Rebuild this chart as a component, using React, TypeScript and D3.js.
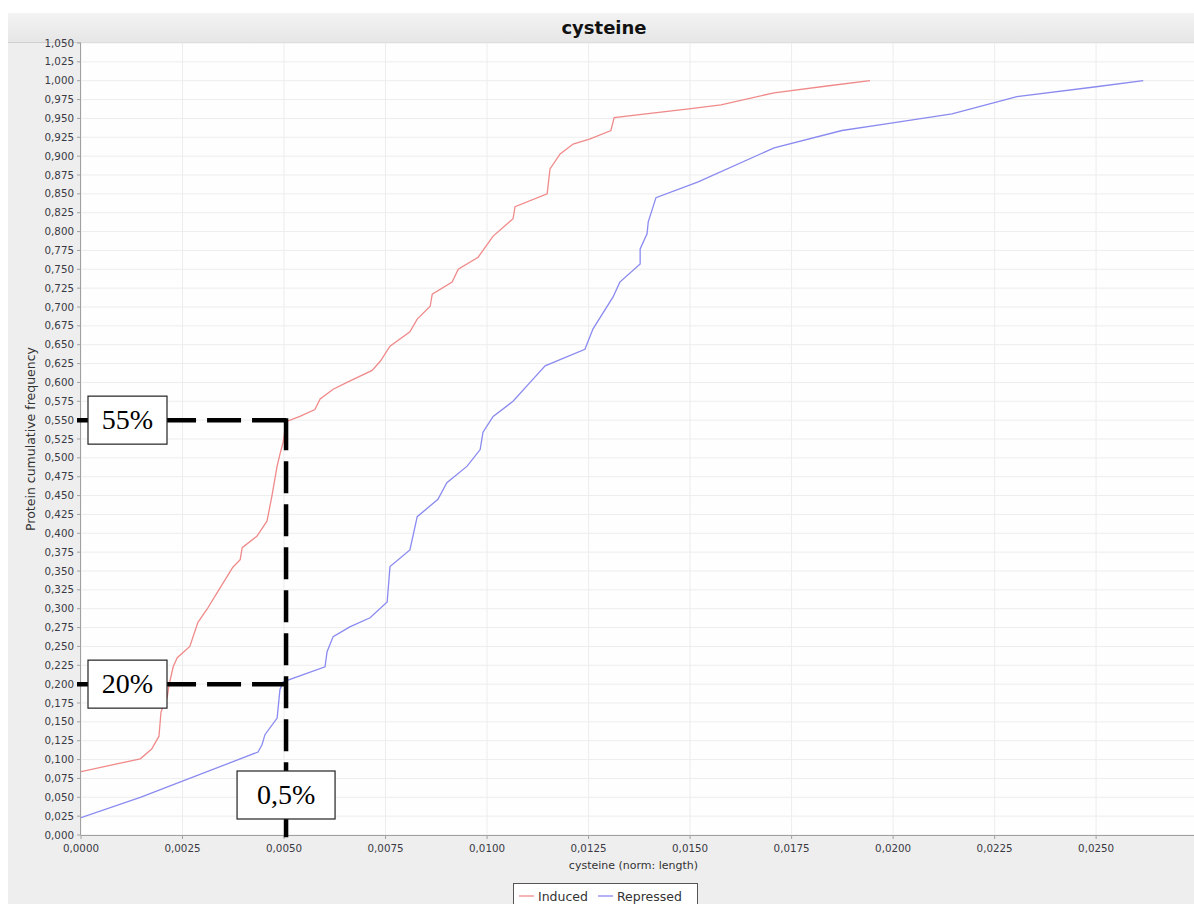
import React from "react";
import * as d3 from "d3";

// cumulative frequency curves
const inducedX = [0, 0.00146, 0.00174, 0.00192, 0.00197, 0.00202, 0.00212, 0.00217, 0.00227, 0.00237, 0.00268, 0.00288, 0.0031, 0.00335, 0.00374, 0.00392, 0.00397, 0.00433, 0.00458, 0.0047, 0.00483, 0.0049, 0.00498, 0.00505, 0.00539, 0.00576, 0.00589, 0.00621, 0.00655, 0.00717, 0.00737, 0.00761, 0.0081, 0.00828, 0.0086, 0.00865, 0.00914, 0.00929, 0.00978, 0.01015, 0.01064, 0.01069, 0.01148, 0.01155, 0.0118, 0.01212, 0.01254, 0.01305, 0.01313, 0.01502, 0.01576, 0.01707, 0.01837, 0.01943];
const inducedY = [0.084, 0.101, 0.114, 0.131, 0.163, 0.17, 0.182, 0.199, 0.223, 0.235, 0.25, 0.282, 0.299, 0.321, 0.355, 0.365, 0.381, 0.396, 0.416, 0.449, 0.489, 0.505, 0.521, 0.548, 0.555, 0.564, 0.578, 0.591, 0.6, 0.616, 0.628, 0.648, 0.667, 0.684, 0.701, 0.717, 0.733, 0.75, 0.766, 0.794, 0.817, 0.833, 0.85, 0.883, 0.903, 0.916, 0.923, 0.934, 0.951, 0.963, 0.968, 0.984, 0.993, 1.0];
const repressedX = [0, 0.00146, 0.00436, 0.00446, 0.00453, 0.00483, 0.0049, 0.00498, 0.00601, 0.00606, 0.00621, 0.00662, 0.00712, 0.00754, 0.00761, 0.0081, 0.00828, 0.00879, 0.00901, 0.00951, 0.00983, 0.0099, 0.01015, 0.01064, 0.01106, 0.01143, 0.01241, 0.01261, 0.0131, 0.01327, 0.01377, 0.01377, 0.01394, 0.01397, 0.01416, 0.0152, 0.01707, 0.01874, 0.01987, 0.02145, 0.02305, 0.025, 0.02616];
const repressedY = [0.023, 0.05, 0.11, 0.12, 0.133, 0.155, 0.193, 0.203, 0.223, 0.243, 0.263, 0.276, 0.288, 0.309, 0.356, 0.378, 0.422, 0.445, 0.467, 0.489, 0.511, 0.534, 0.555, 0.575, 0.6, 0.622, 0.644, 0.671, 0.713, 0.733, 0.757, 0.777, 0.797, 0.813, 0.845, 0.866, 0.911, 0.934, 0.943, 0.956, 0.979, 0.992, 1.0];

const seriesNames = ["Induced", "Repressed"];
const seriesColors = ["#f08a8a", "#8a8af0"];

// annotation marks (threshold and the two frequencies it cuts)
const markX = 0.00505;
const markY = [0.55, 0.2];
const markLabels = ["55%", "20%"];
const markXLabel = "0,5%";

const W = 1194;
const H = 904;
const panel = { left: 8, top: 13 };
const plot = { left: 81, top: 43, right: 1194, bottom: 835 };

const fmt = (n: number, d: number) => n.toFixed(d).replace(".", ",");

export default function App() {
  const x = d3.scaleLinear().domain([0, 0.02741]).range([plot.left, plot.right]);
  const y = d3.scaleLinear().domain([0, 1.05]).range([plot.bottom, plot.top]);

  const xTicks = d3.range(0, 11).map((i) => i * 0.0025);
  const yTicks = d3.range(0, 43).map((i) => i * 0.025);

  const line = d3
    .line<[number, number]>()
    .x((d) => x(d[0]))
    .y((d) => y(d[1]));

  const induced = inducedX.map((v, i) => [v, inducedY[i]] as [number, number]);
  const repressed = repressedX.map((v, i) => [v, repressedY[i]] as [number, number]);

  const font = "'DejaVu Sans', Verdana, sans-serif";
  const serif = "'Liberation Serif', 'DejaVu Serif', serif";
  const mx = x(markX);

  return (
    <svg width={W} height={H} style={{ position: "absolute", left: 0, top: 0 }}>
      <defs>
        <linearGradient id="titleBar" x1="0" y1="0" x2="0" y2="1">
          <stop offset="0" stopColor="#f3f3f3" />
          <stop offset="1" stopColor="#e6e6e6" />
        </linearGradient>
        <clipPath id="plotClip">
          <rect x={plot.left} y={plot.top} width={plot.right - plot.left} height={plot.bottom - plot.top} />
        </clipPath>
      </defs>
      <rect x={0} y={0} width={W} height={H} fill="#ffffff" />
      <rect x={panel.left} y={panel.top} width={W - panel.left} height={H - panel.top} fill="#eeeeee" />
      <rect x={panel.left} y={panel.top} width={W - panel.left} height={plot.top - panel.top} fill="url(#titleBar)" />
      <line x1={panel.left} x2={W} y1={plot.top - 0.5} y2={plot.top - 0.5} stroke="#cfcfcf" />
      <text x={604} y={34} textAnchor="middle" fontFamily={font} fontWeight="bold" fontSize={18} fill="#111">
        cysteine
      </text>

      {/* plot area */}
      <rect x={plot.left} y={plot.top} width={plot.right - plot.left} height={plot.bottom - plot.top} fill="#fefefe" />
      {yTicks.map((t) => (
        <line key={"gy" + t} x1={plot.left} x2={plot.right} y1={y(t)} y2={y(t)} stroke="#ededed" strokeWidth={1} />
      ))}
      {xTicks.map((t) => (
        <line key={"gx" + t} x1={x(t)} x2={x(t)} y1={plot.top} y2={plot.bottom} stroke="#ededed" strokeWidth={1} />
      ))}

      {/* axes */}
      <line x1={plot.left - 0.5} x2={plot.left - 0.5} y1={plot.top} y2={plot.bottom} stroke="#a0a0a0" />
      <line x1={plot.left} x2={plot.right} y1={plot.bottom + 0.5} y2={plot.bottom + 0.5} stroke="#a0a0a0" />
      {yTicks.map((t) => (
        <g key={"ty" + t}>
          <line x1={plot.left - 4} x2={plot.left} y1={y(t)} y2={y(t)} stroke="#a0a0a0" />
          <text x={plot.left - 7} y={y(t) + 3.5} textAnchor="end" fontFamily={font} fontSize={10.3} fill="#3a3a44">
            {fmt(t, 3)}
          </text>
        </g>
      ))}
      {xTicks.map((t) => (
        <g key={"tx" + t}>
          <line x1={x(t)} x2={x(t)} y1={plot.bottom} y2={plot.bottom + 4} stroke="#a0a0a0" />
          <text x={x(t)} y={plot.bottom + 17} textAnchor="middle" fontFamily={font} fontSize={10.3} fill="#3a3a44">
            {fmt(t, 4)}
          </text>
        </g>
      ))}
      <text x={(plot.left + plot.right) / 2 - 4} y={plot.bottom + 34} textAnchor="middle" fontFamily={font} fontSize={11} fill="#333">
        cysteine (norm: length)
      </text>
      <text
        transform={`translate(35, ${(plot.top + plot.bottom) / 2}) rotate(-90)`}
        textAnchor="middle"
        fontFamily={font}
        fontSize={12.5}
        fill="#333"
      >
        Protein cumulative frequency
      </text>

      {/* curves */}
      <g clipPath="url(#plotClip)">
        <path d={line(induced) || ""} fill="none" stroke={seriesColors[0]} strokeWidth={1.3} />
        <path d={line(repressed) || ""} fill="none" stroke={seriesColors[1]} strokeWidth={1.3} />
      </g>

      {/* annotation */}
      {markY.map((v) => (
        <line key={"mh" + v} x1={mx} x2={plot.left - 4} y1={y(v)} y2={y(v)} stroke="#000" strokeWidth={4.5} strokeDasharray="34,11" />
      ))}
      <line x1={mx} x2={mx} y1={y(markY[0]) - 2} y2={plot.bottom + 3} stroke="#000" strokeWidth={4.5} strokeDasharray="32,11" />
      {markY.map((v, i) => (
        <g key={"mb" + v}>
          <rect x={88} y={y(v) - 24} width={79} height={48} fill="#fff" stroke="#222" strokeWidth={1.2} />
          <text x={127.5} y={y(v) + 9} textAnchor="middle" fontFamily={serif} fontSize={28} fill="#000">
            {markLabels[i]}
          </text>
        </g>
      ))}
      <rect x={mx - 49} y={771} width={98} height={48} fill="#fff" stroke="#222" strokeWidth={1.2} />
      <text x={mx} y={804} textAnchor="middle" fontFamily={serif} fontSize={28} fill="#000">
        {markXLabel}
      </text>

      {/* legend */}
      <rect x={513.5} y={883.5} width={184} height={26} fill="#fff" stroke="#555" strokeWidth={1} />
      {seriesNames.map((name, i) => {
        const lx = i === 0 ? 519 : 598;
        return (
          <g key={name}>
            <line x1={lx} x2={lx + 15} y1={896} y2={896} stroke={seriesColors[i]} strokeWidth={1.3} />
            <text x={lx + 19} y={900.5} fontFamily={font} fontSize={12.5} fill="#333">
              {name}
            </text>
          </g>
        );
      })}
    </svg>
  );
}
